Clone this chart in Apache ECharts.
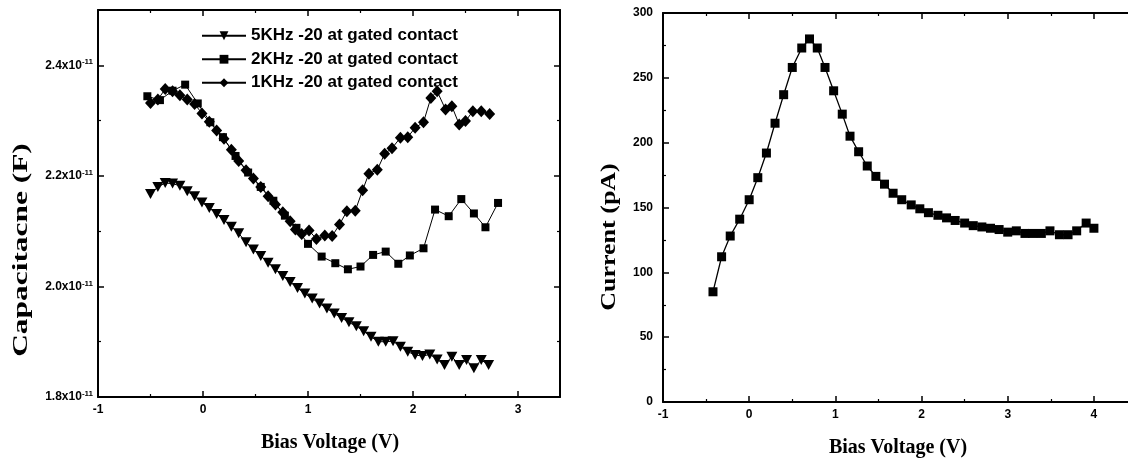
<!DOCTYPE html>
<html>
<head>
<meta charset="utf-8">
<script src="https://cdn.jsdelivr.net/npm/echarts@6/dist/echarts.min.js"></script>
<style>
html,body{margin:0;padding:0;background:#fff;}
#c{width:1128px;height:462px;}
</style>
</head>
<body>
<div id="c"></div>
<script>
// ---- Left chart: capacitance (units of 1e-11 F) vs bias voltage (V) ----
const names = ['5KHz -20 at gated contact', '2KHz -20 at gated contact', '1KHz -20 at gated contact'];

const v5k = [-0.50,-0.43,-0.36,-0.29,-0.22,-0.15,-0.08,-0.01,0.06,0.13,0.20,0.27,0.34,0.41,0.48,0.55,0.62,0.69,0.76,0.83,0.90,0.97,1.04,1.11,1.18,1.25,1.32,1.39,1.46,1.53,1.60,1.67,1.74,1.81,1.88,1.95,2.02,2.09,2.16,2.23,2.30,2.37,2.44,2.51,2.58,2.65,2.72];
const c5k = [2.167,2.180,2.187,2.186,2.182,2.172,2.163,2.152,2.142,2.131,2.120,2.108,2.096,2.080,2.067,2.055,2.043,2.031,2.019,2.008,1.997,1.987,1.978,1.969,1.960,1.951,1.943,1.935,1.928,1.919,1.909,1.900,1.900,1.901,1.891,1.882,1.876,1.874,1.877,1.868,1.858,1.873,1.858,1.867,1.852,1.867,1.858];

const v2k = [-0.53,-0.41,-0.29,-0.17,-0.05,0.07,0.19,0.31,0.43,0.55,0.67,0.78,0.89,1.00,1.13,1.26,1.38,1.50,1.62,1.74,1.86,1.97,2.10,2.21,2.34,2.46,2.58,2.69,2.81];
const c2k = [2.344,2.337,2.354,2.365,2.331,2.297,2.270,2.236,2.206,2.180,2.155,2.128,2.106,2.077,2.054,2.042,2.031,2.036,2.057,2.063,2.041,2.056,2.069,2.139,2.127,2.158,2.132,2.107,2.151];

const v1k = [-0.50,-0.43,-0.36,-0.29,-0.22,-0.15,-0.08,-0.01,0.06,0.13,0.20,0.27,0.34,0.41,0.48,0.55,0.62,0.69,0.76,0.83,0.88,0.94,1.01,1.08,1.16,1.23,1.30,1.37,1.45,1.52,1.58,1.66,1.73,1.80,1.88,1.95,2.02,2.10,2.17,2.23,2.31,2.37,2.44,2.50,2.57,2.65,2.73];
const c1k = [2.332,2.338,2.357,2.353,2.346,2.338,2.330,2.313,2.298,2.282,2.267,2.247,2.227,2.210,2.195,2.180,2.163,2.148,2.134,2.118,2.103,2.095,2.101,2.086,2.092,2.091,2.112,2.136,2.137,2.174,2.204,2.211,2.240,2.250,2.269,2.270,2.287,2.297,2.341,2.353,2.320,2.326,2.293,2.299,2.317,2.317,2.312];

// ---- Right chart: current (pA) vs bias voltage (V) ----
const vI = [-0.42,-0.32,-0.22,-0.11,0.00,0.10,0.20,0.30,0.40,0.50,0.61,0.70,0.79,0.88,0.98,1.08,1.17,1.27,1.37,1.47,1.57,1.67,1.77,1.88,1.98,2.08,2.19,2.29,2.39,2.50,2.60,2.70,2.80,2.90,3.00,3.10,3.20,3.29,3.39,3.49,3.60,3.70,3.80,3.91,4.00];
const iPA = [85,112,128,141,156,173,192,215,237,258,273,280,273,258,240,222,205,193,182,174,168,161,156,152,149,146,144,142,140,138,136,135,134,133,131,132,130,130,130,132,129,129,132,138,134];

// axis ranges / tick settings
const capTicks = {min:1.8, max:2.5, interval:0.2, exponent:'-11'};
const capX = {min:-1, max:3.4, interval:1};
const curY = {min:0, max:300, interval:50};
const curX = {min:-1, max:4.5, interval:1};

const pair = (xs, ys) => xs.map((x, i) => [x, ys[i]]);

const LBL = {fontFamily:'Liberation Sans', fontWeight:'bold', fontSize:12, color:'#000'};
function axis(extra) {
  return Object.assign({
    type:'value',
    axisLine:{show:true, onZero:false, lineStyle:{color:'#000', width:2}},
    axisTick:{show:true, inside:true, length:6, lineStyle:{color:'#000', width:1.5}},
    minorTick:{show:true, splitNumber:2, length:3, lineStyle:{color:'#000', width:1.2}},
    splitLine:{show:false},
    minorSplitLine:{show:false},
    axisLabel:Object.assign({show:true, margin:7}, LBL)
  }, extra);
}
const hidden = {axisLabel:{show:false}};

const chart = echarts.init(document.getElementById('c'), null, {renderer:'canvas'});
const serif = '"Liberation Serif", "Times New Roman", serif';

chart.setOption({
  animation:false,
  backgroundColor:'#fff',
  grid:[
    {left:98, top:10, width:462, height:387, outerBoundsMode:'none', containLabel:false},
    {left:663, top:13, width:474, height:389, outerBoundsMode:'none', containLabel:false}
  ],
  legend:{
    orient:'vertical', left:201, top:27, itemWidth:44, itemHeight:11, itemGap:6, padding:0,
    data:names,
    textStyle:{fontFamily:'Liberation Sans', fontWeight:'bold', fontSize:17, color:'#000', lineHeight:17.5}
  },
  xAxis:[
    axis({gridIndex:0, position:'bottom', min:capX.min, max:capX.max, interval:capX.interval,
      axisLabel:Object.assign({show:true, margin:7, showMaxLabel:false}, LBL)}),
    axis(Object.assign({gridIndex:0, position:'top', min:capX.min, max:capX.max, interval:capX.interval}, hidden)),
    axis({gridIndex:1, position:'bottom', min:curX.min, max:curX.max, interval:curX.interval,
      axisLabel:Object.assign({show:true, margin:7, showMaxLabel:false}, LBL)}),
    axis(Object.assign({gridIndex:1, position:'top', min:curX.min, max:curX.max, interval:curX.interval}, hidden))
  ],
  yAxis:[
    axis({gridIndex:0, position:'left', min:capTicks.min, max:capTicks.max, interval:capTicks.interval,
      axisLabel:{show:true, margin:5, showMaxLabel:false,
        formatter: v => '{m|' + v.toFixed(1) + 'x10}{e|' + capTicks.exponent + '}',
        rich:{
          m:Object.assign({lineHeight:14}, LBL),
          e:{fontFamily:'Liberation Sans', fontWeight:'bold', fontSize:8, color:'#000', verticalAlign:'top', lineHeight:9}
        }}}),
    axis(Object.assign({gridIndex:0, position:'right', min:capTicks.min, max:capTicks.max, interval:capTicks.interval}, hidden)),
    axis({gridIndex:1, position:'left', min:curY.min, max:curY.max, interval:curY.interval,
      axisLabel:Object.assign({show:true, margin:10}, LBL)}),
    axis(Object.assign({gridIndex:1, position:'right', min:curY.min, max:curY.max, interval:curY.interval}, hidden))
  ],
  series:[
    {name:names[0], type:'line', xAxisIndex:0, yAxisIndex:0, data:pair(v5k, c5k),
     symbol:'triangle', symbolRotate:180, symbolSize:[11,10],
     lineStyle:{color:'#000', width:1}, itemStyle:{color:'#000'}},
    {name:names[1], type:'line', xAxisIndex:0, yAxisIndex:0, data:pair(v2k, c2k),
     symbol:'rect', symbolSize:8,
     lineStyle:{color:'#000', width:1}, itemStyle:{color:'#000'}},
    {name:names[2], type:'line', xAxisIndex:0, yAxisIndex:0, data:pair(v1k, c1k),
     symbol:'diamond', symbolSize:[11,12],
     lineStyle:{color:'#000', width:1}, itemStyle:{color:'#000'}},
    {name:'Current', type:'line', xAxisIndex:2, yAxisIndex:2, data:pair(vI, iPA),
     symbol:'rect', symbolSize:9,
     lineStyle:{color:'#000', width:1.3}, itemStyle:{color:'#000'}}
  ],
  graphic:[
    {type:'text', x:22, y:250, rotation:Math.PI/2, scaleX:1.57,
     style:{text:'Capacitacne (F)', font:'bold 20px ' + serif, fill:'#000', textAlign:'center', textVerticalAlign:'middle', align:'center', verticalAlign:'middle'}},
    {type:'text', x:330, y:443,
     style:{text:'Bias Voltage (V)', font:'bold 20px ' + serif, fill:'#000', textAlign:'center', textVerticalAlign:'middle', align:'center', verticalAlign:'middle'}},
    {type:'text', x:610, y:237, rotation:Math.PI/2, scaleX:1.3,
     style:{text:'Current (pA)', font:'bold 20px ' + serif, fill:'#000', textAlign:'center', textVerticalAlign:'middle', align:'center', verticalAlign:'middle'}},
    {type:'text', x:898, y:448,
     style:{text:'Bias Voltage (V)', font:'bold 20px ' + serif, fill:'#000', textAlign:'center', textVerticalAlign:'middle', align:'center', verticalAlign:'middle'}}
  ]
});
</script>
</body>
</html>
